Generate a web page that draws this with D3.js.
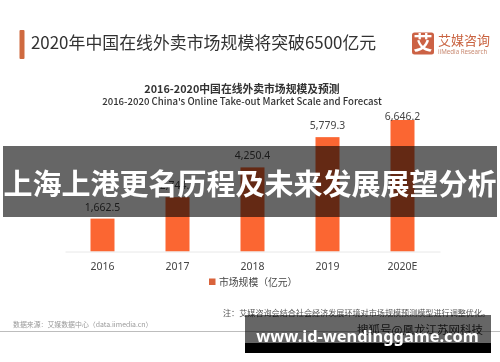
<!DOCTYPE html>
<html>

<head>
    <meta charset="utf-8" />
    <title>上海上港更名历程及未来发展展望分析</title>
    <script src="https://d3js.org/d3.v7.min.js"></script>
    <style>
        html,
        body {
            margin: 0;
            padding: 0;
            background-color: white;
        }

        svg {
            display: block;
            font-family: 'Noto Sans CJK SC', 'Noto Sans', sans-serif;
        }

        .tick text {
            font-family: 'Noto Sans', sans-serif;
        }
    </style>
</head>

<body>
    <div id="chart"></div>

    <script>
        var years = ["2016", "2017", "2018", "2019", "2020E"];
        var marketScale = [1662.5, 2744.7, 4250.4, 5779.3, 6646.2];

        var headline = "2020年中国在线外卖市场规模将突破6500亿元";
        var chartTitleZh = "2016-2020中国在线外卖市场规模及预测";
        var chartTitleEn = "2016-2020 China's Online Take-out Market Scale and Forecast";
        var legendLabel = "市场规模（亿元）";
        var noteText = "注：艾媒咨询会结合社会经济发展环境对市场规模预测模型进行调整优化。";
        var sourceText = "数据来源：艾媒数据中心（data.iimedia.cn）";
        var bannerText = "上海上港更名历程及未来发展展望分析";
        var watermarkText = "搜狐号@凰龙江苏网科技";
        var siteText = "www.id-wendinggame.com";

        var svg = d3.select("#chart")
            .append("svg")
            .attr("width", 500)
            .attr("height", 362);

        // the source image is a soft screenshot, so the page under the banners gets a small blur
        var defs = svg.append("defs");
        defs.append("filter")
            .attr("id", "soft")
            .attr("x", 0).attr("y", 0).attr("width", 500).attr("height", 362)
            .attr("filterUnits", "userSpaceOnUse")
            .append("feGaussianBlur")
            .attr("stdDeviation", 0.6);

        var page = svg.append("g").attr("filter", "url(#soft)");

        page.append("rect")
            .attr("width", 500).attr("height", 362)
            .attr("fill", "#fff");

        // header
        page.append("rect")
            .attr("x", 19.5).attr("y", 30)
            .attr("width", 5).attr("height", 29)
            .attr("rx", 1)
            .attr("fill", "#cf6a3f");

        page.append("text")
            .attr("x", 31).attr("y", 49)
            .attr("font-size", 16.9)
            .attr("fill", "#333")
            .text(headline);

        // logo
        page.append("rect")
            .attr("x", 412).attr("y", 32.5)
            .attr("width", 22).attr("height", 22)
            .attr("rx", 2.5)
            .attr("fill", "#cc6244");
        page.append("text")
            .attr("x", 423).attr("y", 50)
            .attr("text-anchor", "middle")
            .attr("font-size", 19)
            .attr("font-weight", 700)
            .attr("fill", "#fff")
            .text("艾");
        page.append("text")
            .attr("x", 438).attr("y", 45)
            .attr("font-size", 13)
            .attr("fill", "#c9623f")
            .text("艾媒咨询");
        page.append("text")
            .attr("x", 438).attr("y", 53.5)
            .attr("font-size", 6.2)
            .attr("font-family", "'Noto Sans', sans-serif")
            .attr("fill", "#c98a72")
            .text("iiMedia Research");

        // chart titles
        page.append("text")
            .attr("x", 242).attr("y", 93)
            .attr("text-anchor", "middle")
            .attr("font-size", 10.8)
            .attr("font-weight", 700)
            .attr("fill", "#333")
            .text(chartTitleZh);
        page.append("text")
            .attr("x", 242).attr("y", 105)
            .attr("text-anchor", "middle")
            .attr("font-size", 9.6)
            .attr("font-weight", 500)
            .attr("fill", "#333")
            .text(chartTitleEn);

        // scales
        var x = d3.scaleBand()
            .domain(years)
            .range([65, 440])
            .paddingInner(0.68)
            .paddingOuter(0.34);

        var y = d3.scaleLinear()
            .domain([0, d3.max(marketScale)])
            .range([251.5, 120]);

        var rows = years.map(function (d, i) {
            return { year: d, value: marketScale[i] };
        });

        page.selectAll(".bar")
            .data(rows)
            .enter()
            .append("rect")
            .attr("class", "bar")
            .attr("x", function (d) { return x(d.year); })
            .attr("y", function (d) { return y(d.value); })
            .attr("width", x.bandwidth())
            .attr("height", function (d) { return y(0) - y(d.value); })
            .attr("fill", "#fb6632");

        // the tallest label sits right on its bar in the reference, labels stop at the plot top
        page.selectAll(".value")
            .data(rows)
            .enter()
            .append("text")
            .attr("class", "value")
            .attr("x", function (d) { return x(d.year) + x.bandwidth() / 2; })
            .attr("y", function (d) { return Math.max(y(d.value) - 8, y.range()[1]); })
            .attr("text-anchor", "middle")
            .attr("font-family", "'Noto Sans', sans-serif")
            .attr("font-size", 10.4)
            .attr("fill", "#444")
            .text(function (d) { return d3.format(",.1f")(d.value); });

        var axis = page.append("g")
            .attr("transform", "translate(0," + y(0) + ")")
            .call(d3.axisBottom(x).tickSize(0).tickPadding(11));
        axis.select(".domain").attr("stroke", "#e8e8e8");
        axis.selectAll("text")
            .attr("font-size", 10.5)
            .attr("fill", "#444");

        // legend
        page.append("rect")
            .attr("x", 209).attr("y", 278.5)
            .attr("width", 6.5).attr("height", 6.5)
            .attr("fill", "#d9633a");
        page.append("text")
            .attr("x", 219).attr("y", 286)
            .attr("font-size", 9.8)
            .attr("fill", "#444")
            .text(legendLabel);

        // footer
        page.append("text")
            .attr("x", 223).attr("y", 316)
            .attr("font-size", 8.1)
            .attr("fill", "#555")
            .text(noteText);
        page.append("text")
            .attr("x", 13).attr("y", 327)
            .attr("font-size", 6.9)
            .attr("fill", "#999")
            .text(sourceText);
        page.append("line")
            .attr("x1", 0).attr("x2", 500)
            .attr("y1", 331.5).attr("y2", 331.5)
            .attr("stroke", "#bdbdbd")
            .attr("stroke-width", 1);
        page.append("text")
            .attr("x", 357).attr("y", 334)
            .attr("font-size", 11.5)
            .attr("fill", "#333")
            .text(watermarkText);

        // banner across the chart
        svg.append("rect")
            .attr("x", 3).attr("y", 146)
            .attr("width", 494).attr("height", 71)
            .attr("fill", "#000")
            .attr("fill-opacity", 0.6);
        svg.append("text")
            .attr("x", 250).attr("y", 195)
            .attr("text-anchor", "middle")
            .attr("font-size", 29)
            .attr("font-weight", 700)
            .attr("fill", "#fff")
            .text(bannerText);

        // site stamp bottom right
        svg.append("rect")
            .attr("x", 245).attr("y", 315)
            .attr("width", 246).attr("height", 28)
            .attr("fill", "#000")
            .attr("fill-opacity", 0.6);
        svg.append("rect")
            .attr("x", 245).attr("y", 343)
            .attr("width", 246).attr("height", 10)
            .attr("fill", "#000");
        svg.append("text")
            .attr("x", 367.5).attr("y", 342)
            .attr("text-anchor", "middle")
            .attr("font-family", "'Noto Sans', sans-serif")
            .attr("font-size", 16.4)
            .attr("font-weight", 700)
            .attr("fill", "#fff")
            .text(siteText);
    </script>

</body>

</html>
